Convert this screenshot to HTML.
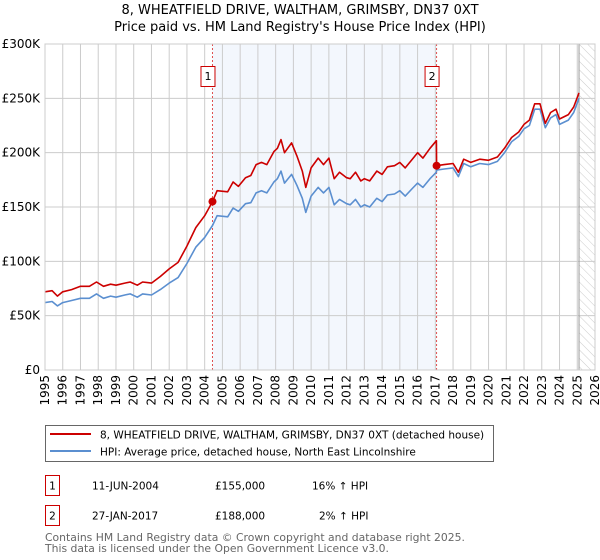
<!DOCTYPE html>
<html><head><meta charset="utf-8"><style>
body{margin:0;background:#fff;width:600px;height:560px;overflow:hidden;font-family:"DejaVu Sans","Liberation Sans",sans-serif}
svg{display:block}
text{font-family:"DejaVu Sans","Liberation Sans",sans-serif}
</style></head><body>
<svg id="chart" width="600" height="560" viewBox="0 0 600 560">
<defs><pattern id="hatch" width="6" height="6" patternUnits="userSpaceOnUse" patternTransform="rotate(-45)"><line x1="0" y1="0" x2="0" y2="6" stroke="#ccc" stroke-width="1"/></pattern></defs>
<text x="300" y="14" text-anchor="middle" font-size="13" fill="#000">8, WHEATFIELD DRIVE, WALTHAM, GRIMSBY, DN37 0XT</text>
<text x="300" y="31" text-anchor="middle" font-size="13" fill="#000">Price paid vs. HM Land Registry's House Price Index (HPI)</text>
<g id="plot"></g>
<g>
<rect x="45.5" y="425.5" width="448" height="36" fill="#fff" stroke="#666"/>
<line x1="50" y1="434" x2="91" y2="434" stroke="#cc0000" stroke-width="2"/>
<text x="100" y="438.5" font-size="10.5">8, WHEATFIELD DRIVE, WALTHAM, GRIMSBY, DN37 0XT (detached house)</text>
<line x1="50" y1="451" x2="91" y2="451" stroke="#5b8fd0" stroke-width="2"/>
<text x="100" y="455.5" font-size="10.5">HPI: Average price, detached house, North East Lincolnshire</text>
</g>
<g font-size="10.5">
<rect x="45.5" y="475.5" width="14" height="20" fill="#fff" stroke="#cc0000"/>
<text x="52.5" y="489.5" text-anchor="middle">1</text>
<text x="92" y="489.5">11-JUN-2004</text>
<text x="215" y="489.5">£155,000</text>
<text x="312" y="489.5">16% ↑ HPI</text>
<rect x="45.5" y="505.5" width="14" height="20" fill="#fff" stroke="#cc0000"/>
<text x="52.5" y="519.5" text-anchor="middle">2</text>
<text x="92" y="519.5">27-JAN-2017</text>
<text x="215" y="519.5">£188,000</text>
<text x="319" y="519.5">2% ↑ HPI</text>
</g>
<text x="45" y="541" font-size="10.8" fill="#666">Contains HM Land Registry data © Crown copyright and database right 2025.</text>
<text x="45" y="552" font-size="10.8" fill="#666">This data is licensed under the Open Government Licence v3.0.</text>
</svg>
<script>
const dates=[1995.0,1995.4,1995.7,1996.0,1996.5,1997.0,1997.5,1997.9,1998.3,1998.7,1999.0,1999.5,1999.8,2000.2,2000.5,2001.0,2001.5,2002.0,2002.5,2003.0,2003.5,2004.0,2004.44,2004.7,2005.3,2005.6,2005.9,2006.3,2006.6,2006.9,2007.2,2007.5,2007.9,2008.1,2008.3,2008.5,2008.9,2009.2,2009.5,2009.7,2010.0,2010.4,2010.7,2011.0,2011.3,2011.6,2012.0,2012.2,2012.5,2012.8,2013.0,2013.3,2013.7,2014.0,2014.3,2014.7,2015.0,2015.3,2015.7,2016.0,2016.3,2016.7,2017.06,2017.07,2017.5,2018.0,2018.3,2018.6,2019.0,2019.5,2020.0,2020.5,2020.9,2021.3,2021.7,2022.0,2022.3,2022.6,2022.9,2023.2,2023.5,2023.8,2024.0,2024.5,2024.8,2025.1];
const hpiValues=[62,63,59,62,64,66,66,70,66,68,67,69,70,67,70,69,74,80,85,98,113,122,133,142,141,149,146,153,154,163,165,163,173,176,183,172,180,170,158,145,160,168,163,168,152,157,153,152,157,150,152,150,158,155,161,162,165,160,167,172,168,176,182,184,185,186,178,190,187,190,189,192,200,210,215,222,225,240,240,223,232,235,226,230,237,250];
const priceValues=[72,73,68,72,74,77,77,81,77,79,78,80,81,78,81,80,86,93,99,114,131,142,155,165,164,173,169,177,179,189,191,189,201,204,212,200,209,197,183,168,186,195,189,195,176,182,177,176,182,174,176,174,183,180,187,188,191,186,194,200,195,204,211,188,189,190,182,194,191,194,193,196,204,214,219,226,230,245,245,227,237,240,231,235,242,255];
const saleDates=[2004.44,2017.07];
const salePrices=[155,188];
const saleLabels=["1","2"];
const yTicks=[0,50,100,150,200,250,300];
const yTickLabels=["£0","£50K","£100K","£150K","£200K","£250K","£300K"];
const xYears=[1995,1996,1997,1998,1999,2000,2001,2002,2003,2004,2005,2006,2007,2008,2009,2010,2011,2012,2013,2014,2015,2016,2017,2018,2019,2020,2021,2022,2023,2024,2025,2026];
const dataEnd=2025.1;

const L=45,R=595,T=44,B=370,X0=1995,X1=2026,YMAX=300;
const sx=v=>L+(v-X0)/(X1-X0)*(R-L);
const sy=v=>B-v/YMAX*(B-T);
const NS="http://www.w3.org/2000/svg";
const plot=document.getElementById('plot');
function mk(tag,attrs,parent){const e=document.createElementNS(NS,tag);for(const k in attrs)e.setAttribute(k,attrs[k]);(parent||plot).appendChild(e);return e;}

let e=mk('rect',{x:sx(saleDates[0]),y:T,width:sx(saleDates[1])-sx(saleDates[0]),height:B-T,fill:'#eef3fc',opacity:'0.7'});


e=mk('rect',{x:sx(dataEnd),y:T,width:R-sx(dataEnd),height:B-T,fill:'url(#hatch)'});



yTicks.forEach((t,i)=>{
 let g=mk('line',{x1:L,x2:R,y1:sy(t),y2:sy(t),stroke:'#ccc','stroke-width':1});
 
 
 let tx=mk('text',{x:L-5,y:sy(t)+4,'text-anchor':'end','font-size':'12',fill:'#000'});
 tx.textContent=yTickLabels[i];
 
 
});
xYears.forEach(y=>{
 let g=mk('line',{x1:sx(y),x2:sx(y),y1:T,y2:B,stroke:'#ccc','stroke-width':1});
 
 
 let tx=mk('text',{x:0,y:0,'text-anchor':'end','font-size':'12',fill:'#000',transform:`translate(${sx(y)+4},${B+5}) rotate(-90)`});
 tx.textContent=y;
 
 
});
e=mk('line',{x1:sx(dataEnd),x2:sx(dataEnd),y1:T,y2:B,stroke:'#999','stroke-width':1});



saleDates.forEach((d,i)=>{
 let l=mk('line',{x1:sx(d),x2:sx(d),y1:T,y2:B,stroke:'#e05050','stroke-width':1,'stroke-dasharray':'2,2'});
 
 
});

const path=(vals)=>dates.map((d,i)=>(i?'L':'M')+sx(d).toFixed(1)+','+sy(vals[i]).toFixed(1)).join('');
e=mk('path',{d:path(hpiValues),fill:'none',stroke:'#5b8fd0','stroke-width':1.6,'stroke-linejoin':'round'});


e=mk('path',{d:path(priceValues),fill:'none',stroke:'#cc0000','stroke-width':1.6,'stroke-linejoin':'round'});



saleDates.forEach((d,i)=>{
 let c=mk('circle',{cx:sx(d),cy:sy(salePrices[i]),r:4,fill:'#cc0000'});
 
 
 let b=mk('rect',{x:sx(d)-11.5,y:66.5,width:14,height:20,fill:'#fff',stroke:'#cc0000'});
 
 
 let t=mk('text',{x:sx(d)-4.5,y:80,'text-anchor':'middle','font-size':'11',fill:'#000'});
 t.textContent=saleLabels[i];
 
 
});
e=mk('rect',{x:L,y:T,width:R-L,height:B-T,fill:'none',stroke:'#ccc'});


</script>
</body></html>
